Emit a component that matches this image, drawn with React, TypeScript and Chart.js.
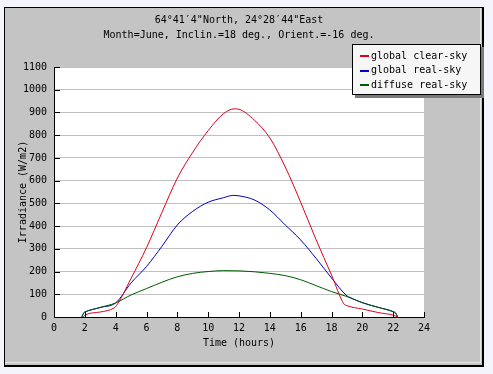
import React, { useEffect, useRef } from "react";
import { Chart, registerables } from "chart.js";

Chart.register(...registerables);

const titleLines = ['64°41′4"North, 24°28′44"East', "Month=June, Inclin.=18 deg., Orient.=-16 deg."];
const seriesLabels = ["global clear-sky", "global real-sky", "diffuse real-sky"];
const seriesColors = ["#e0001c", "#0000c8", "#005800"];
const seriesOrder = [0, 2, 1];

const clearHours = [1.9, 2, 3, 3.9, 4.05, 5, 6, 7, 8, 9, 10, 11, 11.7, 12, 13, 14, 15, 16, 17, 18, 18.8, 19, 20, 21, 22, 22.3];
const clearValues = [0, 8, 22, 40, 50, 170, 305, 460, 611, 725, 820, 895, 916, 914, 866, 788, 660, 505, 340, 185, 58, 50, 35, 20, 8, 0];

const realHours = [1.8, 1.95, 2, 3, 4, 5, 6, 7, 8, 9, 10, 11, 11.6, 12, 13, 14, 15, 16, 17, 18, 19, 19.2, 20, 21, 22, 22.15, 22.3];
const realValues = [0, 20, 22, 42, 62, 150, 222, 311, 405, 465, 505, 525, 535, 533, 515, 471, 405, 339, 258, 172, 93, 86, 63, 43, 23, 18, 0];

const diffuseHours = [1.8, 1.95, 2, 3, 4, 5, 6, 7, 8, 9, 10, 11, 12, 13, 14, 15, 16, 17, 18, 19, 20, 21, 22, 22.15, 22.3];
const diffuseValues = [0, 20, 22, 42, 62, 97, 125, 153, 177, 192, 200, 204, 203, 199, 192, 182, 164, 138, 112, 90, 63, 43, 24, 18, 0];

const xTickStep = 2;
const yTickStep = 100;
const xMax = 24;
const yMax = 1100;

const FONT = "'DejaVu Sans Mono', 'Liberation Mono', monospace";

const toPoints = (xs: number[], ys: number[]) => xs.map((x, i) => ({ x, y: ys[i] }));

const backgroundPlugin = {
  id: "panelBg",
  beforeDraw(chart: any) {
    const { ctx, width, height, chartArea: a } = chart;
    ctx.save();
    ctx.fillStyle = "#f4f4fc";
    ctx.fillRect(0, 0, width, height);
    ctx.fillStyle = "#c4c4c4";
    ctx.fillRect(4, 7, 480, 360);
    ctx.fillStyle = "#000";
    ctx.fillRect(4, 7, 480, 1);
    ctx.fillRect(4, 7, 1, 360);
    ctx.fillRect(482, 7, 2, 360);
    ctx.fillRect(4, 365, 480, 2);
    ctx.fillStyle = "#e6e6e6";
    ctx.fillRect(480, 8, 1, 355);
    ctx.fillRect(5, 362, 476, 1);
    ctx.fillStyle = "#ffffff";
    ctx.fillRect(a.left, a.top, a.right - a.left, a.bottom - a.top);
    ctx.restore();
  },
};

const innerTicksPlugin = {
  id: "innerTicks",
  afterDatasetsDraw(chart: any) {
    const { ctx, chartArea: a } = chart;
    const xs = chart.scales.x;
    const ys = chart.scales.y;
    ctx.save();
    ctx.strokeStyle = "#000";
    ctx.lineWidth = 1;
    ctx.beginPath();
    ys.ticks.forEach((t: any) => {
      const py = Math.round(ys.getPixelForValue(t.value)) + 0.5;
      ctx.moveTo(a.left, py);
      ctx.lineTo(a.left + 6, py);
    });
    xs.ticks.forEach((t: any) => {
      const px = Math.round(xs.getPixelForValue(t.value)) + 0.5;
      ctx.moveTo(px, a.bottom);
      ctx.lineTo(px, a.bottom - 5);
    });
    ctx.stroke();
    ctx.restore();
  },
};

const boxLegendPlugin = {
  id: "boxLegend",
  afterDraw(chart: any) {
    const { ctx } = chart;
    const lx = 352, ly = 44, lw = 129, lh = 51;
    ctx.save();
    ctx.fillStyle = "#7a7a7a";
    ctx.fillRect(lx + 3, ly + 3, lw, lh);
    ctx.fillStyle = "#f6f6f6";
    ctx.fillRect(lx, ly, lw, lh);
    ctx.strokeStyle = "#000";
    ctx.lineWidth = 1;
    ctx.strokeRect(lx + 0.5, ly + 0.5, lw - 1, lh - 1);
    ctx.font = `10px ${FONT}`;
    ctx.textBaseline = "middle";
    ctx.textAlign = "left";
    chart.data.datasets.forEach((ds: any, i: number) => {
      const y = 56 + i * 14.7;
      ctx.strokeStyle = ds.borderColor;
      ctx.lineWidth = 2;
      ctx.beginPath();
      ctx.moveTo(360, Math.round(y));
      ctx.lineTo(369, Math.round(y));
      ctx.stroke();
      ctx.fillStyle = "#000";
      ctx.fillText(ds.label, 371, y);
    });
    ctx.restore();
  },
};

export default function App() {
  const canvasRef = useRef<HTMLCanvasElement | null>(null);

  useEffect(() => {
    if (!canvasRef.current) return;
    const series = [
      toPoints(clearHours, clearValues),
      toPoints(realHours, realValues),
      toPoints(diffuseHours, diffuseValues),
    ];
    const chart = new Chart(canvasRef.current, {
      type: "line",
      data: {
        datasets: series.map((data, i) => ({
          label: seriesLabels[i],
          data,
          order: seriesOrder[i],
          borderColor: seriesColors[i],
          backgroundColor: seriesColors[i],
          borderWidth: 1,
          pointRadius: 0,
          fill: false,
          cubicInterpolationMode: "monotone" as const,
        })),
      },
      options: {
        animation: false,
        responsive: false,
        devicePixelRatio: 1,
        layout: { padding: { left: 17, top: 13, right: 69, bottom: 25 } },
        plugins: {
          legend: { display: false },
          tooltip: { enabled: false },
          title: {
            display: true,
            text: titleLines,
            color: "#000",
            fullSize: false,
            font: { family: FONT, size: 10, weight: "normal", lineHeight: 1.5 },
            padding: { top: 0, bottom: 24 },
          },
        },
        scales: {
          x: {
            type: "linear",
            min: 0,
            max: xMax,
            afterFit: (s: any) => { s.height = 32; },
            ticks: {
              stepSize: xTickStep,
              color: "#000",
              padding: 5,
              font: { family: FONT, size: 10 },
              callback: (v: any) => String(v),
            },
            grid: { display: false, drawTicks: false },
            border: { display: true, color: "#000", width: 1 },
            title: { display: true, text: "Time (hours)", color: "#000", padding: 0, font: { family: FONT, size: 10 } },
          },
          y: {
            type: "linear",
            min: 0,
            max: yMax,
            afterFit: (s: any) => { s.width = 37; },
            ticks: {
              stepSize: yTickStep,
              color: "#000",
              padding: 7,
              font: { family: FONT, size: 10 },
              callback: (v: any) => String(v),
            },
            grid: { display: true, drawTicks: false, color: "#c0c0c0", lineWidth: 1 },
            border: { display: true, color: "#000", width: 1 },
            title: { display: true, text: "Irradiance (W/m2)", color: "#000", padding: 0, font: { family: FONT, size: 10 } },
          },
        },
      },
      plugins: [backgroundPlugin, innerTicksPlugin, boxLegendPlugin],
    });
    return () => chart.destroy();
  }, []);

  return (
    <div style={{ position: "fixed", left: 0, top: 0, width: 493, height: 374 }}>
      <canvas ref={canvasRef} width={493} height={374} style={{ display: "block" }} />
    </div>
  );
}
